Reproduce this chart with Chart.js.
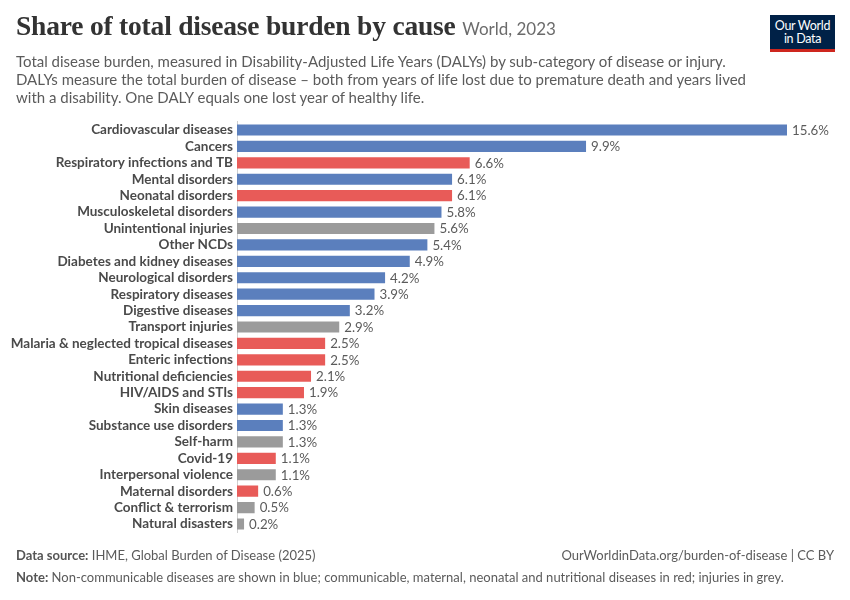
<!DOCTYPE html>
<html>
<head>
<meta charset="utf-8">
<script src="https://cdn.jsdelivr.net/npm/chart.js@4.4.1/dist/chart.umd.min.js"></script>
<style>
  html, body { margin: 0; padding: 0; background: #fff; }
  #wrap { position: relative; width: 850px; height: 600px; font-family: Lato, "Noto Sans", sans-serif; }
  #chartBox { position: absolute; left: 0; top: 0; width: 850px; height: 600px; }
  .title { position: absolute; left: 16px; top: 10px; font-family: "Liberation Serif", "DejaVu Serif", serif; font-size: 27.5px; font-weight: bold; color: #333; white-space: nowrap; letter-spacing: -0.2px; }
  .title span { font-family: Lato, sans-serif; font-weight: normal; font-size: 17px; color: #6b6b6b; letter-spacing: 0; }
  .subtitle { position: absolute; left: 16px; top: 52px; width: 800px; font-size: 15px; line-height: 18px; color: #5b5b5b; white-space: nowrap; }
  .logo { position: absolute; left: 770px; top: 15px; width: 65px; height: 37px; background: #002147; color: #fff; font-size: 12.5px; line-height: 13px; text-align: center; box-sizing: border-box; padding-top: 4px; letter-spacing: -0.3px; border-bottom: 3px solid #ce261e; }
  .foot { position: absolute; font-size: 13px; color: #5b5b5b; white-space: nowrap; }
  .foot b { font-weight: bold; color: #555; }
</style>
</head>
<body>
<div id="wrap">
  <div id="chartBox"><canvas id="c"></canvas></div>
  <div class="title">Share of total disease burden by cause <span>World, 2023</span></div>
  <div class="subtitle">Total disease burden, measured in Disability-Adjusted Life Years (DALYs) by sub-category of disease or injury.<br>DALYs measure the total burden of disease – both from years of life lost due to premature death and years lived<br>with a disability. One DALY equals one lost year of healthy life.</div>
  <div class="logo">Our World<br>in Data</div>
  <div class="foot" style="left:16px; top:547px;"><b>Data source:</b> IHME, Global Burden of Disease (2025)</div>
  <div class="foot" style="right:16px; top:547px;">OurWorldinData.org/burden-of-disease | CC BY</div>
  <div class="foot" style="left:16px; top:569px;"><b>Note:</b> Non-communicable diseases are shown in blue; communicable, maternal, neonatal and nutritional diseases in red; injuries in grey.</div>
</div>
<script>
const categories = [
  "Cardiovascular diseases","Cancers","Respiratory infections and TB","Mental disorders",
  "Neonatal disorders","Musculoskeletal disorders","Unintentional injuries","Other NCDs",
  "Diabetes and kidney diseases","Neurological disorders","Respiratory diseases","Digestive diseases",
  "Transport injuries","Malaria & neglected tropical diseases","Enteric infections","Nutritional deficiencies",
  "HIV/AIDS and STIs","Skin diseases","Substance use disorders","Self-harm","Covid-19",
  "Interpersonal violence","Maternal disorders","Conflict & terrorism","Natural disasters"
];
const shares = [15.6,9.9,6.6,6.1,6.1,5.8,5.6,5.4,4.9,4.2,3.9,3.2,2.9,2.5,2.5,2.1,1.9,1.3,1.3,1.3,1.1,1.1,0.6,0.5,0.2];
// group: n = non-communicable, c = communicable/maternal/neonatal/nutritional, i = injuries
const groups = ["n","n","c","n","c","n","i","n","n","n","n","n","i","c","c","c","c","n","n","i","c","i","c","i","i"];
const groupColors = { n: "#5b7fbd", c: "#e85b58", i: "#9b9b9b" };

const valueLabels = {
  id: "valueLabels",
  afterDatasetsDraw(chart) {
    const ctx = chart.ctx;
    const meta = chart.getDatasetMeta(0);
    ctx.save();
    ctx.font = "13.3px Lato, sans-serif";
    ctx.fillStyle = "#5b5b5b";
    ctx.textBaseline = "middle";
    ctx.textAlign = "left";
    meta.data.forEach((bar, i) => {
      ctx.fillText(shares[i].toFixed(1) + "%", bar.x + 5, bar.y + 0.5);
    });
    ctx.restore();
  }
};

new Chart(document.getElementById("c"), {
  type: "bar",
  data: {
    labels: categories,
    datasets: [{
      data: shares,
      backgroundColor: groups.map(g => groupColors[g]),
      borderWidth: 0,
      categoryPercentage: 1,
      barPercentage: 0.68
    }]
  },
  options: {
    indexAxis: "y",
    responsive: true,
    maintainAspectRatio: false,
    animation: false,
    layout: { padding: { top: 121.8, bottom: 67.8, left: 0, right: 63 } },
    plugins: { legend: { display: false }, tooltip: { enabled: false }, title: { display: false } },
    scales: {
      x: { display: false, min: 0, max: 15.6 },
      y: {
        afterFit(scale) { scale.width = 237; },
        grid: { display: false, drawTicks: false },
        border: { display: true, color: "#d0d0d0", width: 1 },
        ticks: { padding: 4, color: "#4a4a4a", font: { family: "Lato, sans-serif", size: 13.5, weight: "bold" }, autoSkip: false }
      }
    }
  },
  plugins: [valueLabels]
});
</script>
</body>
</html>
